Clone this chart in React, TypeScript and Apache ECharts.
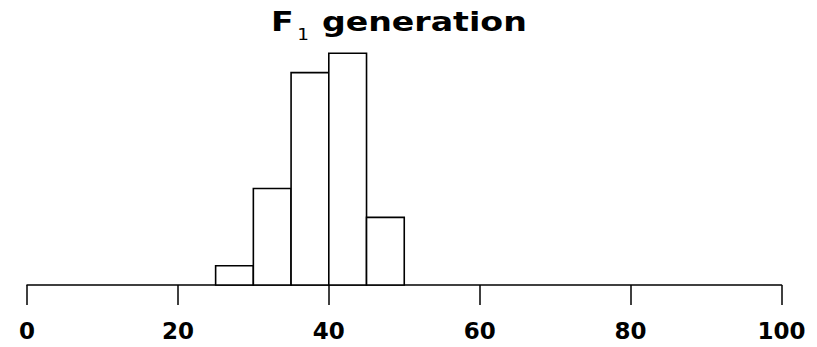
import React, { useEffect, useRef } from "react";
import * as echarts from "echarts";

const binStarts = [25, 30, 35, 40, 45];
const binEnds = [30, 35, 40, 45, 50];
const counts = [2, 10, 22, 24, 7];
const xTicks = [0, 20, 40, 60, 80, 100];
const titleMain = "F";
const titleSub = "1";
const titleRest = " generation";

export default function App() {
  const ref = useRef<HTMLDivElement>(null);
  useEffect(() => {
    document.body.style.margin = "0";
    const chart = echarts.init(ref.current!, null, { renderer: "svg" });
    const data = binStarts.map((s, i) => [s, binEnds[i], counts[i]]);
    const font = "DejaVu Sans";
    chart.setOption({
      animation: false,
      backgroundColor: "#fff",
      graphic: [
        {
          type: "text",
          x: 271,
          y: 8,
          scaleX: 1.23,
          style: {
            text: `{f|${titleMain}}{s|${titleSub}}{g|${titleRest}}`,
            rich: {
              f: { fontSize: 27, fontWeight: "bold", fontFamily: font, fill: "#000", lineHeight: 32, verticalAlign: "top" },
              s: { fontSize: 15, fontFamily: font, fill: "#000", verticalAlign: "top", lineHeight: 15, padding: [19, 1, 0, 3] },
              g: { fontSize: 27, fontWeight: "bold", fontFamily: font, fill: "#000", lineHeight: 32, verticalAlign: "top" },
            },
          },
        },
      ],
      grid: { left: 27, right: 35.5, top: 53.3, bottom: 62 },
      xAxis: {
        type: "value",
        min: xTicks[0],
        max: xTicks[xTicks.length - 1],
        interval: 20,
        splitLine: { show: false },
        axisLine: { show: true, lineStyle: { color: "#000", width: 1.5 } },
        axisTick: { show: true, length: 20, lineStyle: { color: "#000", width: 1.5 } },
        axisLabel: { margin: 34, fontSize: 23, fontWeight: "bold", fontFamily: font, color: "#000" },
      },
      yAxis: { type: "value", min: 0, max: 24, show: false },
      series: [
        {
          type: "custom",
          data,
          encode: { x: [0, 1], y: 2 },
          renderItem: (params: any, api: any) => {
            const p0 = api.coord([api.value(0), api.value(2)]);
            const p1 = api.coord([api.value(1), 0]);
            return {
              type: "rect",
              shape: { x: p0[0], y: p0[1], width: p1[0] - p0[0], height: p1[1] - p0[1] },
              style: { fill: "#fff", stroke: "#000", lineWidth: 1.6 },
            };
          },
        },
      ],
    });
    return () => chart.dispose();
  }, []);
  return <div ref={ref} style={{ width: 817, height: 347 }} />;
}
